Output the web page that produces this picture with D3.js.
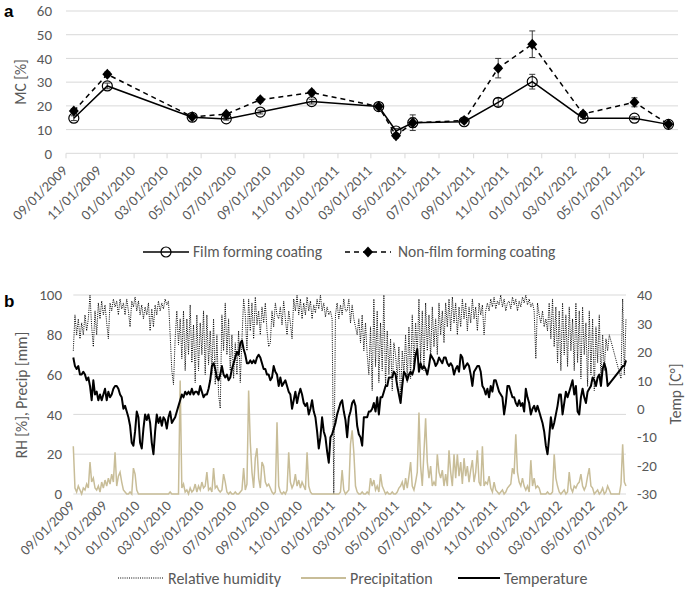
<!DOCTYPE html>
<html><head><meta charset="utf-8">
<script src="https://cdn.jsdelivr.net/npm/d3@7/dist/d3.min.js"></script>
<style>
body{margin:0;background:#fff;}
svg text{font-family:Carlito,Calibri,Lato,sans-serif;}
</style></head><body>
<svg id="chart" width="685" height="590"></svg>
<script>
// ---------- Panel a data ----------
const sampleDates = ["2009-09-15","2009-11-14","2010-04-15","2010-06-15","2010-08-15","2010-11-15","2011-03-15","2011-04-15","2011-05-15","2011-08-15","2011-10-15","2011-12-15","2012-03-15","2012-06-15","2012-08-15"];
const filmMC    = [14.8,28.4,15.2,14.5,17.4,21.8,19.7,9.4,12.9,13.3,21.5,30.2,14.8,14.8,12.2];
const filmErr   = [1.0,1.2,0.5,0.5,0.8,1.0,0.5,1.0,2.0,0.5,1.7,3.1,0.5,0.6,0.5];
const nonFilmMC = [17.8,33.3,15.4,16.5,22.6,25.6,19.7,7.4,12.9,13.8,35.9,46.0,16.6,21.5,12.2];
const nonFilmErr= [1.0,1.0,0.5,0.5,1.0,1.0,0.5,1.0,3.3,0.5,4.1,5.6,1.0,1.9,0.5];
const mcTicks = [0,10,20,30,40,50,60];
const seriesNamesA = ["Film forming coating","Non-film forming coating"];

// ---------- Panel b data (readings evenly spaced 09/01/2009 .. 07/01/2012) ----------
const climateStart = "2009-09-01", climateEnd = "2012-07-01";
const tempC = [
18,15,14,15,12,12,13,12,10,11, 8,3,10,5,6,3,5,3,5,7, 3,6,4,5,7,8,8,7,5,4, 0,1,-1,-3,-6,-12,-13,-8,-1,-3,
-12,-14,-7,-2,-4,-2,-5,-12,-16,-8, -2,-5,-3,-6,-3,-4,-7,-3,-1,-5, -4,-3,-1,1,3,5,4,6,5,6, 5,7,5,6,6,5,8,6,4,5,
5,7,10,15,16,14,11,10,12,15, 12,11,12,10,11,14,16,18,20,19, 23,24,21,19,16,16,17,16,17,16, 18,19,18,16,14,14,12,12,10,11,
15,13,12,8,11,8,9,10,8,6, 5,0,3,6,2,5,7,5,2,1, 2,-2,0,3,-1,-3,-8,-14,-10,-3, -8,-10,-15,-19,-10,-9,-7,-5,-2,0, 2,3,-1,-4,
-10,-3,-1,2,3,1,-6,-9,-10,-13, -3,-3,-3,-1,-1,0,2,-1,4,-2, 4,4,6,8,8,11,11,11,13,12, 8,5,2,8,13,12,10,12,13,12,
14,19,21,13,16,14,15,14,12,15, 19,18,17,15,16,18,17,16,18,18, 16,15,16,15,12,14,15,13,19,18, 14,15,16,15,12,8,13,14,15,15, 13,8,7,5,
7,4,8,6,10,10,8,6,5,4, -2,2,8,8,6,4,4,2,1,3, 1,2,-1,7,4,2,-2,0,1,-1, 1,-1,-3,-5,-8,-13,-16,-10,-3,-7,
-5,-2,1,5,5,-2,2,6,4,6, 8,10,5,8,-1,-2,4,7,4,2, 6,7,8,11,10,8,11,12,8,14, 16,14,8,null,null,null,null,null,null,null, 14,15,15,17
];
const rhPct = [
72,90,80,88,78,86,80,90,82,88, 100,84,74,92,80,96,88,97,90,95, 86,78,96,92,98,94,97,90,98,93, 96,90,98,92,84,97,94,99,92,97,
90,95,88,94,90,96,82,93,84,95, 90,97,92,96,93,98,95,97,80,62, 55,78,92,75,88,68,92,62,88,70, 95,66,85,56,90,62,86,70,92,60,
90,65,82,60,88,55,80,50,43,90, 72,96,70,88,62,80,58,76,60,82, 56,78,98,90,72,98,82,96,78,99, 85,92,80,94,86,96,82,74,76,92,
84,96,90,88,94,85,97,88,80,92, 86,78,98,92,100,90,98,88,96,90, 99,92,97,88,95,91,98,93,100,92, 96,89,94,90,92,88,0,90,96,88, 95,90,98,92,
92,98,86,95,88,84,80,88,76,90, 72,86,70,60,84,52,98,64,92,56, 86,62,100,54,82,60,78,52,76,70, 58,74,46,72,60,80,56,84,58,90,
64,86,70,98,66,92,62,96,72,90, 68,94,74,88,70,96,80,92,76,96, 84,98,82,99,86,96,80,94,84,98, 88,96,82,94,86,98,88,94,82,96, 90,95,80,92,
96,92,98,94,99,93,97,95,100,94, 98,92,96,97,93,99,95,98,92,97, 94,99,96,100,95,98,94,96,92,68, 96,90,86,92,84,88,82,96,78,98,
74,94,66,92,62,96,70,90,64,94, 72,88,62,96,66,92,58,94,70,86, 54,92,60,88,52,84,66,90,56,80, 62,78,72,80,null,null,null,null,null,null, 58,98,60,88
];
const precipMm = [
24,3,1,4,2,0,3,2,5,3, 16,6,8,3,2,4,1,6,3,7, 4,8,5,10,6,21,4,9,11,6, 2,1,0,0,1,0,13,10,2,0,
0,0,0,0,0,0,0,0,0,0, 0,0,0,0,0,0,0,0,1,0, 0,0,0,0,57,3,5,1,2,0, 3,1,2,5,1,4,2,6,3,4,
11,2,3,1,13,3,4,2,1,2, 10,6,1,0,1,0,0,1,0,0, 1,2,13,2,5,52,26,11,3,18, 23,8,3,16,14,6,4,5,3,1,
0,1,36,4,1,0,1,0,2,21, 6,3,5,10,4,7,3,6,4,2, 21,4,1,0,0,0,0,0,0,0, 0,0,0,0,0,0,0,0,0,0, 1,12,2,0,
1,2,25,32,21,4,1,0,0,1, 0,0,1,0,8,4,7,2,4,1, 10,4,2,0,1,0,0,1,0,0, 1,3,4,6,2,8,3,9,16,4,
2,6,11,41,14,4,21,38,16,8, 14,4,6,4,20,11,8,12,4,10, 4,22,11,4,20,8,20,9,16,5, 18,9,14,6,12,17,6,11,22,6, 4,24,4,6,
5,9,3,1,6,2,1,0,1,2, 0,1,3,4,5,13,10,30,11,6, 4,8,4,2,4,1,17,4,8,3, 4,3,0,0,0,0,1,0,0,1,
20,8,4,1,0,1,2,0,1,11, 3,1,4,3,5,6,10,4,2,4, 9,13,4,3,0,1,2,0,1,3, 0,1,4,2,0,0,0,0,0,0, 5,25,6,4
];
const leftTicksB = [0,20,40,60,80,100];
const rightTicksB = [-30,-20,-10,0,10,20,30,40];
const seriesNamesB = ["Relative humidity","Precipitation","Temperature"];

// ---------- drawing ----------
const svg = d3.select("#chart");
const grid = "#d9d9d9", txt = "#595959";
const parse = d3.utcParse("%Y-%m-%d");
const fmt = d3.utcFormat("%m/%d/%Y");

// Panel a
const xA = d3.scaleUtc().domain([parse("2009-09-01"), parse("2012-09-01")]).range([66, 678]);
const yA = d3.scaleLinear().domain([0, 60]).range([153.3, 11]);
const tickDatesA = d3.utcMonth.range(parse("2009-09-01"), parse("2012-07-02"), 2);

const gA = svg.append("g");
gA.selectAll("line.g").data(mcTicks.filter(d => d > 0)).join("line")
  .attr("x1", 66).attr("x2", 678).attr("y1", d => yA(d)).attr("y2", d => yA(d))
  .attr("stroke", grid).attr("stroke-width", 1);
gA.append("line").attr("x1", 66).attr("x2", 678).attr("y1", yA(0)).attr("y2", yA(0)).attr("stroke", grid);
gA.selectAll("line.t").data(tickDatesA).join("line")
  .attr("x1", d => xA(d)).attr("x2", d => xA(d)).attr("y1", yA(0)).attr("y2", yA(0) + 5).attr("stroke", grid);
gA.selectAll("text.y").data(mcTicks).join("text")
  .attr("x", 52).attr("y", d => yA(d)).attr("dy", "0.35em").attr("text-anchor", "end")
  .attr("fill", txt).style("font-size", "15px").text(d => d);
gA.selectAll("text.x").data(tickDatesA).join("text")
  .attr("transform", d => `translate(${xA(d) - 1.5},168) rotate(-45)`)
  .attr("dy", "0.35em").attr("text-anchor", "end").attr("fill", txt).style("font-size", "14.5px")
  .text(d => fmt(d));
gA.append("text").attr("transform", "translate(21,82) rotate(-90)").attr("text-anchor", "middle")
  .attr("dy", "0.35em").attr("fill", txt).style("font-size", "15.5px").text("MC [%]");
svg.append("text").attr("x", 4).attr("y", 17).style("font-family", "Arial,Liberation Sans,sans-serif")
  .style("font-weight", "bold").style("font-size", "17px").attr("fill", "#000").text("a");

const ptsA = sampleDates.map((d, i) => ({ t: parse(d), f: filmMC[i], fe: filmErr[i], n: nonFilmMC[i], ne: nonFilmErr[i] }));
const diamond = "M0,-5.5L5,0L0,5.5L-5,0Z";

function errBars(key, ekey) {
  const g = gA.append("g").attr("stroke", "#3a3a3a").attr("stroke-width", 1);
  ptsA.forEach(p => {
    const x = xA(p.t), y1 = yA(p[key] + p[ekey]), y2 = yA(p[key] - p[ekey]);
    g.append("line").attr("x1", x).attr("x2", x).attr("y1", y1).attr("y2", y2);
    g.append("line").attr("x1", x - 3).attr("x2", x + 3).attr("y1", y1).attr("y2", y1);
    g.append("line").attr("x1", x - 3).attr("x2", x + 3).attr("y1", y2).attr("y2", y2);
  });
}
// film
errBars("f", "fe");
gA.append("path").datum(ptsA).attr("fill", "none").attr("stroke", "#000").attr("stroke-width", 1.5)
  .attr("d", d3.line().x(d => xA(d.t)).y(d => yA(d.f)));
gA.selectAll("circle.f").data(ptsA).join("circle").attr("cx", d => xA(d.t)).attr("cy", d => yA(d.f))
  .attr("r", 5).attr("fill", "none").attr("stroke", "#000").attr("stroke-width", 1.2);
// non-film
errBars("n", "ne");
gA.append("path").datum(ptsA).attr("fill", "none").attr("stroke", "#000").attr("stroke-width", 1.5)
  .attr("stroke-dasharray", "5,4").attr("d", d3.line().x(d => xA(d.t)).y(d => yA(d.n)));
gA.selectAll("path.n").data(ptsA).join("path").attr("d", diamond)
  .attr("transform", d => `translate(${xA(d.t)},${yA(d.n)})`).attr("fill", "#000");

// legend a
const lgA = svg.append("g").attr("transform", "translate(0,252)");
lgA.append("line").attr("x1", 143).attr("x2", 189).attr("stroke", "#000").attr("stroke-width", 1.5);
lgA.append("circle").attr("cx", 166).attr("r", 5).attr("fill", "none").attr("stroke", "#000").attr("stroke-width", 1.2);
lgA.append("text").attr("x", 193).attr("dy", "0.35em").attr("fill", txt).style("font-size", "15.5px").text(seriesNamesA[0]);
lgA.append("line").attr("x1", 345).attr("x2", 391).attr("stroke", "#000").attr("stroke-width", 1.5).attr("stroke-dasharray", "5,4");
lgA.append("path").attr("d", diamond).attr("transform", "translate(368,0)").attr("fill", "#000");
lgA.append("text").attr("x", 398).attr("dy", "0.35em").attr("fill", txt).style("font-size", "15.5px").text(seriesNamesA[1]);

// Panel b
const t0 = parse(climateStart), t1 = parse(climateEnd);
const xB = d3.scaleUtc().domain([t0, t1]).range([73.3, 626]);
const yL = d3.scaleLinear().domain([0, 100]).range([494, 295]);
const yR = d3.scaleLinear().domain([-30, 40]).range([494, 295]);
const tickDatesB = d3.utcMonth.range(t0, parse("2012-07-02"), 2);
const dateAt = (i, n) => new Date(+t0 + i * (t1 - t0) / (n - 1));
const toPts = arr => arr.map((v, i) => ({ t: dateAt(i, arr.length), v })).filter(d => d.v !== null);

const gB = svg.append("g");
gB.selectAll("line.g").data(leftTicksB).join("line")
  .attr("x1", 73.3).attr("x2", 626).attr("y1", d => yL(d)).attr("y2", d => yL(d)).attr("stroke", grid);
gB.selectAll("text.l").data(leftTicksB).join("text")
  .attr("x", 62).attr("y", d => yL(d)).attr("dy", "0.35em").attr("text-anchor", "end")
  .attr("fill", txt).style("font-size", "15px").text(d => d);
gB.selectAll("text.r").data(rightTicksB).join("text")
  .attr("x", 637).attr("y", d => yR(d)).attr("dy", "0.35em").attr("text-anchor", "start")
  .attr("fill", txt).style("font-size", "15px").text(d => d);
gB.selectAll("text.x").data(tickDatesB).join("text")
  .attr("transform", d => `translate(${xB(d) - 1.5},503) rotate(-45)`)
  .attr("dy", "0.35em").attr("text-anchor", "end").attr("fill", txt).style("font-size", "14.5px")
  .text(d => fmt(d));
gB.append("text").attr("transform", "translate(22,395) rotate(-90)").attr("text-anchor", "middle")
  .attr("dy", "0.35em").attr("fill", txt).style("font-size", "15.5px").text("RH [%], Precip [mm]");
gB.append("text").attr("transform", "translate(676,394) rotate(-90)").attr("text-anchor", "middle")
  .attr("dy", "0.35em").attr("fill", txt).style("font-size", "15.5px").text("Temp [C°]");
svg.append("text").attr("x", 4).attr("y", 307).style("font-family", "Arial,Liberation Sans,sans-serif")
  .style("font-weight", "bold").style("font-size", "17px").attr("fill", "#000").text("b");

const precipColor = "#c8bd98";
gB.append("path").datum(toPts(rhPct)).attr("fill", "none").attr("stroke", "#000").attr("stroke-width", 1)
  .attr("stroke-dasharray", "1,1.2").attr("d", d3.line().x(d => xB(d.t)).y(d => yL(d.v)));
gB.append("path").datum(toPts(precipMm)).attr("fill", "none").attr("stroke", precipColor).attr("stroke-width", 1.5)
  .attr("d", d3.line().x(d => xB(d.t)).y(d => yL(d.v)));
gB.append("path").datum(toPts(tempC)).attr("fill", "none").attr("stroke", "#000").attr("stroke-width", 2)
  .attr("stroke-linejoin", "round").attr("d", d3.line().x(d => xB(d.t)).y(d => yR(d.v)));

// legend b
const lgB = svg.append("g").attr("transform", "translate(0,578)");
lgB.append("line").attr("x1", 118).attr("x2", 164).attr("stroke", "#000").attr("stroke-width", 1).attr("stroke-dasharray", "1,1.2");
lgB.append("text").attr("x", 168).attr("dy", "0.35em").attr("fill", txt).style("font-size", "16px").text(seriesNamesB[0]);
lgB.append("line").attr("x1", 301).attr("x2", 346).attr("stroke", precipColor).attr("stroke-width", 2);
lgB.append("text").attr("x", 350).attr("dy", "0.35em").attr("fill", txt).style("font-size", "16px").text(seriesNamesB[1]);
lgB.append("line").attr("x1", 458).attr("x2", 500).attr("stroke", "#000").attr("stroke-width", 2);
lgB.append("text").attr("x", 504).attr("dy", "0.35em").attr("fill", txt).style("font-size", "16px").text(seriesNamesB[2]);
</script>
</body></html>
